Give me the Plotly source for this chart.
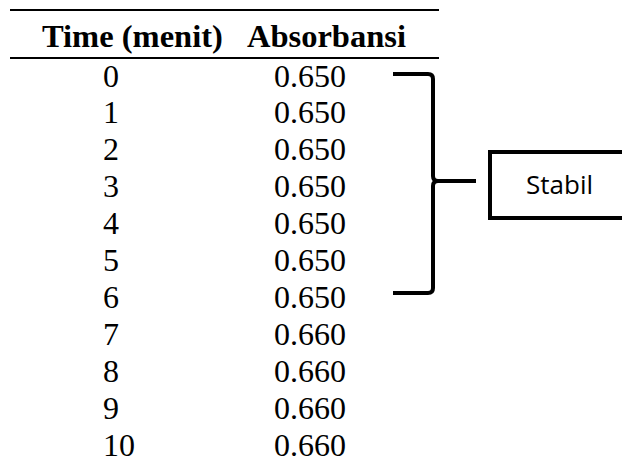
import plotly.graph_objects as go

# ---- data ----
time_menit = [0, 1, 2, 3, 4, 5, 6, 7, 8, 9, 10]
absorbansi = [0.650, 0.650, 0.650, 0.650, 0.650, 0.650, 0.650, 0.660, 0.660, 0.660, 0.660]
headers = ["Time (menit)", "Absorbansi"]
stable_label = "Stabil"

W, H = 622, 465
ROW0_PX = 78.5      # pixel anchor of first row
ROW_PX = 36.9       # row spacing in pixels


def px(x):
    return x / W


def py(y):
    return 1 - y / H


serif = "Liberation Serif, Times New Roman, serif"
fig = go.Figure()

fig.add_trace(go.Scatter(
    x=[103] * len(time_menit), y=time_menit,
    text=[str(t) for t in time_menit],
    mode="text", textposition="middle right",
    textfont=dict(family=serif, size=32, color="black"),
    hoverinfo="skip", showlegend=False,
))
fig.add_trace(go.Scatter(
    x=[274] * len(absorbansi), y=time_menit,
    text=[f"{v:.3f}" for v in absorbansi],
    mode="text", textposition="middle right",
    textfont=dict(family=serif, size=32, color="black"),
    hoverinfo="skip", showlegend=False,
))

# headers
for xh, txt in zip([40, 245], headers):
    fig.add_annotation(x=xh, y=-1.15, xref="x", yref="y", text=f"<b>{txt}</b>",
                       showarrow=False, xanchor="left", yanchor="middle",
                       font=dict(family=serif, size=32.5, color="black"))

# table rules
for yl in (10, 58):
    fig.add_shape(type="line", xref="paper", yref="paper",
                  x0=px(10), x1=px(439), y0=py(yl), y1=py(yl),
                  line=dict(color="black", width=2))

# bracket
top, mid, bot, xv, xl, xt, r = 74, 181, 293, 433, 393, 476, 5
pts = [
    f"M{px(xl)},{py(top)}", f"L{px(xv - r)},{py(top)}",
    f"Q{px(xv)},{py(top)} {px(xv)},{py(top + r)}",
    f"L{px(xv)},{py(mid - r)}",
    f"Q{px(xv)},{py(mid)} {px(xv + r)},{py(mid)}",
    f"L{px(xt)},{py(mid)}",
    f"M{px(xv + r)},{py(mid)}",
    f"Q{px(xv)},{py(mid)} {px(xv)},{py(mid + r)}",
    f"L{px(xv)},{py(bot - r)}",
    f"Q{px(xv)},{py(bot)} {px(xv - r)},{py(bot)}",
    f"L{px(xl)},{py(bot)}",
]
fig.add_shape(type="path", xref="paper", yref="paper", path=" ".join(pts),
              line=dict(color="black", width=4))

# box
fig.add_shape(type="rect", xref="paper", yref="paper",
              x0=px(490), x1=px(640), y0=py(218), y1=py(152),
              line=dict(color="black", width=4), fillcolor="white", layer="below")
fig.add_annotation(x=px(559), y=py(184), xref="paper", yref="paper", text=stable_label,
                   showarrow=False, xanchor="center", yanchor="middle",
                   font=dict(family="Open Sans, sans-serif", size=26, color="black"))

fig.update_layout(
    width=W, height=H, margin=dict(l=0, r=0, t=0, b=0),
    paper_bgcolor="white", plot_bgcolor="white",
    xaxis=dict(range=[0, W], visible=False, fixedrange=True),
    yaxis=dict(range=[(H - ROW0_PX) / ROW_PX, -ROW0_PX / ROW_PX], visible=False, fixedrange=True),
    showlegend=False,
)

fig.write_html("out.html", config={"displayModeBar": False},
               post_script="document.body.style.margin='0';document.body.style.overflow='hidden';")
